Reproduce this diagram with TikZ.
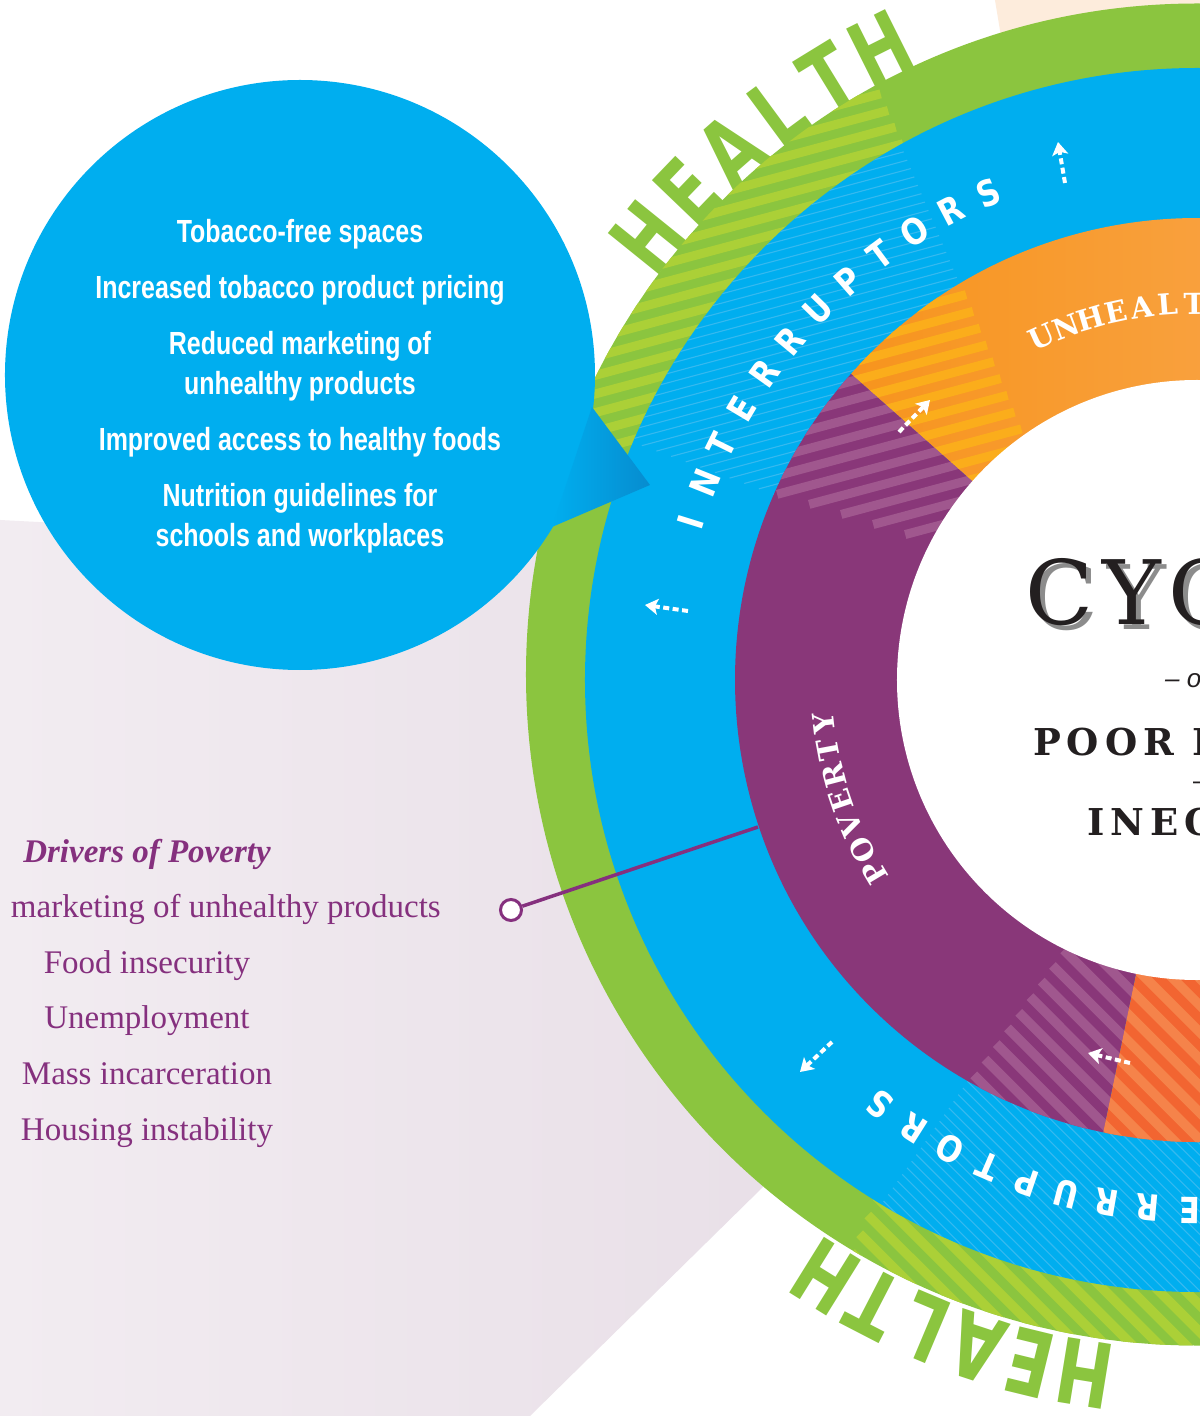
\documentclass[tikz,border=0pt]{standalone}
\usepackage{fontspec}
\usetikzlibrary{calc,arrows.meta}
\setmainfont{Liberation Serif}
\newfontfamily\gothic[FakeStretch=0.78]{Liberation Sans}
\newfontfamily\healthface[FakeStretch=0.74]{DejaVu Sans}
\newfontfamily\ringface[FakeStretch=0.85]{DejaVu Sans}
\newfontfamily\slab{DejaVu Serif}
\newfontfamily\slabwide[LetterSpace=10]{DejaVu Serif}
\newfontfamily\slabspaced[LetterSpace=16]{DejaVu Serif}
\newfontfamily\smallsans{Liberation Sans}

\definecolor{cgreen}{HTML}{8BC53F}
\definecolor{cgreenlt}{HTML}{ABD037}
\definecolor{cbluelt}{HTML}{00AEEF}
\definecolor{cbluedk}{HTML}{0098D8}
\definecolor{cbluefine}{HTML}{35B9EF}
\definecolor{cpoint}{HTML}{078CCF}
\definecolor{corange}{HTML}{F7941D}
\definecolor{corangert}{HTML}{FBB26B}
\definecolor{corangelt}{HTML}{FBAD1B}
\definecolor{cpurple}{HTML}{893779}
\definecolor{cpurplelt}{HTML}{A0578E}
\definecolor{cred}{HTML}{F26531}
\definecolor{credlt}{HTML}{F5834A}
\definecolor{cplum}{HTML}{85307E}
\definecolor{cink}{HTML}{231F20}
\definecolor{clavl}{HTML}{F2ECF1}
\definecolor{clavr}{HTML}{E6DCE5}
\definecolor{cpeach}{HTML}{FDECDC}

\pgfdeclareradialshading{bluering}{\pgfpoint{0bp}{0bp}}{%
  color(0bp)=(cbluelt); color(37bp)=(cbluelt); color(50bp)=(cbluedk)}

% Parallel stripes at angle #1, offsets #2,#3,...,#4 from the centre,
% style #5; each stripe runs from line #6--#7 to line #8--#9 (square ends).
\newcommand\stripeset[9]{%
  \foreach \hd in {#2,#3,...,#4}{%
    \coordinate (hs1) at (#1+90:\hd);
    \coordinate (hs2) at ($(hs1)+(#1:100)$);
    \draw[#5] (intersection of #6--#7 and hs1--hs2) -- (intersection of #8--#9 and hs1--hs2);
  }}

% Letters set one by one clockwise around the centre, tops outward.
% #1 style, #2 name prefix, #3 first angle, #4 step, #5 baseline radius, #6 letters
\newcommand\arcword[6]{%
  \foreach \ch [count=\ci from 0] in {#6}{%
    \pgfmathsetmacro\lettangle{#3-\ci*#4}%
    \node[#1, anchor=base, rotate=\lettangle-90] (#2\ci) at (\lettangle:#5) {\ch};
  }}

\begin{document}
\begin{tikzpicture}[x=1pt,y=1pt,
  callouttext/.style={text=white, font=\gothic\bfseries\fontsize{32}{36}\selectfont, anchor=base, inner sep=0pt},
  drvtext/.style={text=cplum, font=\fontsize{33}{38}\selectfont, anchor=base, inner sep=0pt},
  healthletter/.style={text=cgreen, font=\healthface\bfseries\fontsize{90}{90}\selectfont, inner sep=0pt},
  ringletter/.style={text=white, font=\ringface\bfseries\fontsize{36}{36}\selectfont, inner sep=0pt},
  slabletter/.style={text=white, font=\slab\bfseries\fontsize{29}{29}\selectfont, inner sep=0pt},
  centretext/.style={text=cink, anchor=base west, inner sep=0pt},
  dasharrow/.style={white, line width=4pt, dash pattern=on 6pt off 3.5pt,
    -{Stealth[length=13pt,width=16pt,inset=3pt]}},
]
\useasboundingbox (-1197,-736) rectangle (3,680);
\clip (-1197,-736) rectangle (3,680);
\fill[white] (-1197,-736) rectangle (3,680);

% backdrop shapes
\shade[left color=clavl, right color=clavr]
  (-1197,160) -- (-247,110) -- (-197,-274) -- (-667,-736) -- (-1197,-736) -- cycle;
\fill[cpeach] (-202,680) -- (10,680) -- (10,560) -- (-182,560) -- cycle;

% HEALTH lettering around the outside
\arcword{healthletter}{ht}{141.1}{4.9}{673}{H,E,A,L,T,H}
\arcword{healthletter}{hb}{260.8}{4.54}{670}{H,E,A,L,T,H}

% outer green ring
\fill[cgreen] (0,5.5) circle (671);
\begin{scope}
  \clip (0,5.5) circle (671);
  \coordinate (gt1) at (-319,592); \coordinate (gt2) at (-292,532);
  \coordinate (gt3) at (162:500);  \coordinate (gt4) at (162:700);
  \stripeset{15}{342}{360}{684}{draw=cgreenlt, line width=9pt}{gt1}{gt2}{gt3}{gt4}
  \coordinate (gb1) at (-330,-537); \coordinate (gb2) at (-340,-560);
  \coordinate (gb3) at (300:500);   \coordinate (gb4) at (300:700);
  \stripeset{135}{250}{269}{687}{draw=cgreenlt, line width=9.5pt}{gb1}{gb2}{gb3}{gb4}
\end{scope}

% blue ring
\shade[shading=bluering] (0,0) circle (612);
\begin{scope}
  \clip (0,0) circle (612);
  \coordinate (bt1) at (-297,537); \coordinate (bt2) at (-242,407);
  \coordinate (bt3) at (-557,235); \coordinate (bt4) at (-427,187);
  \stripeset{15}{280}{289}{622}{draw=cbluefine, line width=1.1pt}{bt1}{bt2}{bt3}{bt4}
  \coordinate (bb1) at (-314,-522); \coordinate (bb2) at (-230,-402);
  \coordinate (bb3) at (300:400);   \coordinate (bb4) at (300:700);
  \stripeset{135}{190}{198}{622}{draw=cbluefine, line width=1.1pt}{bb1}{bb2}{bb3}{bb4}
\end{scope}

% inner ring segments
\shade[left color=corange, right color=corangert]
  (0,0) -- (138.5:462) arc[start angle=138.5, end angle=-30, radius=462] -- cycle;
\fill[cpurple] (0,0) -- (138.5:462) arc[start angle=138.5, end angle=258.3, radius=462] -- cycle;
\fill[cred] (0,0) -- (258.3:462) arc[start angle=258.3, end angle=330, radius=462] -- cycle;

\begin{scope}
  \clip (0,0) -- (138.5:462) arc[start angle=138.5, end angle=-30, radius=462] -- cycle;
  \coordinate (ot1) at (145:200); \coordinate (ot2) at (145:500);
  \coordinate (ot3) at (-234,393); \coordinate (ot4) at (-178,257);
  \stripeset{15}{180}{198}{468}{draw=corangelt, line width=9pt}{ot1}{ot2}{ot3}{ot4}
\end{scope}
\begin{scope}
  \clip (0,0) -- (138.5:462) arc[start angle=138.5, end angle=258.3, radius=462] -- cycle;
  \coordinate (pt1) at (130:200); \coordinate (pt2) at (130:500);
  \coordinate (pt3) at (-424,187); \coordinate (pt4) at (-284,143);
  \stripeset{15}{180}{198}{396}{draw=cpurplelt, line width=9pt}{pt1}{pt2}{pt3}{pt4}
  \coordinate (pb1) at (-227,-400); \coordinate (pb2) at (-137,-275);
  \coordinate (pb3) at (265:200);   \coordinate (pb4) at (265:500);
  \stripeset{135}{190}{209}{475}{draw=cpurplelt, line width=9.5pt}{pb1}{pb2}{pb3}{pb4}
\end{scope}
\begin{scope}
  \clip (0,0) -- (258.3:462) arc[start angle=258.3, end angle=330, radius=462] -- cycle;
  \coordinate (rb1) at (250:100); \coordinate (rb2) at (250:500);
  \coordinate (rb3) at (300:100); \coordinate (rb4) at (300:600);
  \stripeset{135}{114}{133}{475}{draw=credlt, line width=9.5pt}{rb1}{rb2}{rb3}{rb4}
\end{scope}

% white centre
\fill[white] (0,0) circle (300);

% ring lettering
\arcword{ringletter}{it}{162.7}{4.5}{517}{I,N,T,E,R,R,U,P,T,O,R,S}
\arcword{ringletter}{ib}{282.7}{4.5}{517}{I,N,T,E,R,R,U,P,T,O,R,S}
\arcword{slabletter}{pv}{210.9}{4.05}{365}{P,O,V,E,R,T,Y}
\arcword{slabletter}{uh}{114.4}{4.0}{366}{U,N,H,E,A,L,T,H,Y}

% centre title
\node[centretext, text=black!45, font=\slabwide\fontsize{89}{89}\selectfont] (cycleshade) at (-167,50) {CYCLE};
\node[centretext, font=\slabwide\fontsize{89}{89}\selectfont] (cycle) at (-172,55) {CYCLE};
\node[centretext, font=\smallsans\itshape\fontsize{26}{26}\selectfont] (ofline) at (-32,-7) {– of};
\node[centretext, font=\slabspaced\bfseries\fontsize{37}{37}\selectfont] (poorhealth) at (-164,-75) {POOR HEALTH};
\node[centretext, font=\smallsans\fontsize{26}{26}\selectfont] (dashline) at (-4,-109) {–};
\node[centretext, font=\slabspaced\bfseries\fontsize{37}{37}\selectfont] (inequality) at (-110,-155) {INEQUALITY};

% dashed direction arrows
\coordinate (a1s) at (-132,497);  \coordinate (a1e) at (-139,538);
\coordinate (a2s) at (-298,248);  \coordinate (a2e) at (-267,280);
\coordinate (a3s) at (-509,69);   \coordinate (a3e) at (-552,75);
\coordinate (a4s) at (-365,-362); \coordinate (a4e) at (-397,-392);
\coordinate (a5s) at (-67,-383);  \coordinate (a5e) at (-109,-373);
\foreach \n in {1,...,5} \draw[dasharrow] (a\n s) -- (a\n e);

% leader from the poverty list to the ring
\node[circle, draw=cplum, fill=white, line width=3pt, minimum size=21pt, inner sep=0pt] (marker) at (-686,-230) {};
\coordinate (ringpt) at (-439,-147);
\draw[cplum, line width=3.5pt] (marker) -- (ringpt);

% interruptors callout
\node[circle, fill=cbluelt, minimum size=590pt, inner sep=0pt] (callout) at (-897,305) {};
\shade[left color=cbluelt, right color=cpoint] (-605,273) -- (-547,195) -- (-645,153) -- cycle;
\node[callouttext] (c1) at (-897,437) {Tobacco-free spaces};
\node[callouttext] (c2) at (-897,381) {Increased tobacco product pricing};
\node[callouttext] (c3) at (-897,325) {Reduced marketing of};
\node[callouttext] (c4) at (-897,285) {unhealthy products};
\node[callouttext] (c5) at (-897,229) {Improved access to healthy foods};
\node[callouttext] (c6) at (-897,173) {Nutrition guidelines for};
\node[callouttext] (c7) at (-897,133) {schools and workplaces};

% drivers of poverty list
\node[drvtext, font=\bfseries\itshape\fontsize{33}{38}\selectfont] (d0) at (-1050,-182) {Drivers of Poverty};
\node[drvtext, anchor=base east] (d1) at (-756,-237) {marketing of unhealthy products};
\node[drvtext] (d2) at (-1050,-293) {Food insecurity};
\node[drvtext] (d3) at (-1050,-348) {Unemployment};
\node[drvtext] (d4) at (-1050,-404) {Mass incarceration};
\node[drvtext] (d5) at (-1050,-460) {Housing instability};
\end{tikzpicture}
\end{document}
